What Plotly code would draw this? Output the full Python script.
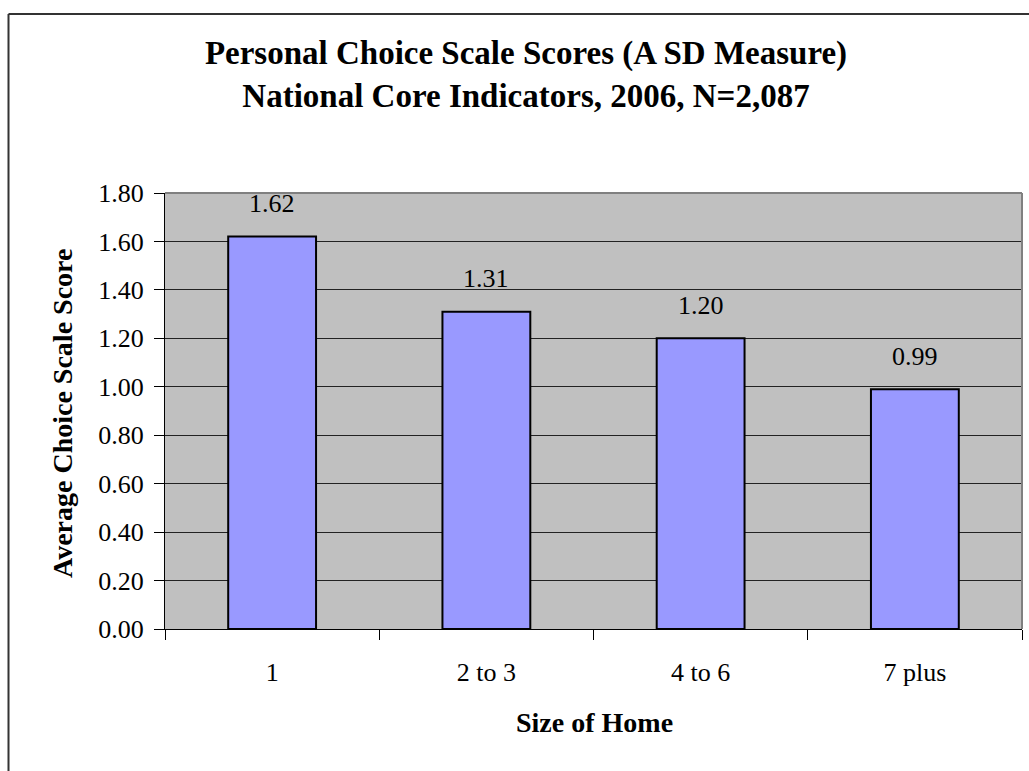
import plotly.graph_objects as go

# Chart data
categories = ["1", "2 to 3", "4 to 6", "7 plus"]
scores = [1.62, 1.31, 1.20, 0.99]
y_tick_values = [0.0, 0.2, 0.4, 0.6, 0.8, 1.0, 1.2, 1.4, 1.6, 1.8]
y_tick_labels = ["0.00", "0.20", "0.40", "0.60", "0.80", "1.00", "1.20", "1.40", "1.60", "1.80"]

title_lines = ["Personal Choice Scale Scores (A SD Measure)",
               "National Core Indicators, 2006, N=2,087"]
x_title = "Size of Home"
y_title = "Average Choice Scale Score"

# Page geometry (pixels)
W, H = 1029, 771
L, R, T, B = 165, 7, 193, 142
PW = W - L - R
PH = H - T - B

FONT = "Liberation Serif, Times New Roman, serif"


def px_x(px):
    return (px - L) / PW


def px_y(py):
    return (H - B - py) / PH


fig = go.Figure(
    go.Bar(
        x=categories,
        y=scores,
        width=0.41,
        marker=dict(color="#9999FF", line=dict(color="black", width=2)),
        hoverinfo="x+y",
    )
)

# Value labels above each bar (category positions given by index)
annotations = []
for i, val in enumerate(scores):
    annotations.append(dict(
        x=i, y=val, xref="x", yref="y",
        text=f"{val:.2f}", showarrow=False,
        yanchor="middle", yshift=33,
        font=dict(family=FONT, size=26, color="black"),
    ))

# Axis titles
annotations.append(dict(
    x=px_x(594), y=px_y(722), xref="paper", yref="paper",
    text=f"<b>{x_title}</b>", showarrow=False,
    xanchor="center", yanchor="middle",
    font=dict(family=FONT, size=28, color="black"),
))
annotations.append(dict(
    x=px_x(62), y=px_y(414), xref="paper", yref="paper",
    text=f"<b>{y_title}</b>", showarrow=False, textangle=-90,
    xanchor="center", yanchor="middle",
    font=dict(family=FONT, size=28, color="black"),
))

shapes = [
    # outer chart frame (top and left edges)
    dict(type="line", xref="paper", yref="paper",
         x0=px_x(8.5), x1=px_x(W + 20), y0=px_y(14), y1=px_y(14),
         line=dict(color="#333333", width=2)),
    dict(type="line", xref="paper", yref="paper",
         x0=px_x(8.5), x1=px_x(8.5), y0=px_y(14), y1=px_y(H + 20),
         line=dict(color="#333333", width=2)),
    # plot-area border (top and right)
    dict(type="line", xref="paper", yref="paper",
         x0=0, x1=1, y0=1, y1=1, line=dict(color="#808080", width=2)),
    dict(type="line", xref="paper", yref="paper",
         x0=1, x1=1, y0=0, y1=1, line=dict(color="#808080", width=2)),
]

fig.update_layout(
    width=W, height=H,
    margin=dict(l=L, r=R, t=T, b=B, autoexpand=False),
    paper_bgcolor="white",
    plot_bgcolor="#C0C0C0",
    showlegend=False,
    bargap=0.59,
    title=dict(
        text="<b>" + "<br>".join(title_lines) + "</b>",
        x=526 / W, xanchor="center", xref="container",
        y=1 - 64 / H, yanchor="top", yref="container",
        font=dict(family=FONT, size=33, color="black"),
    ),
    annotations=annotations,
    shapes=shapes,
    font=dict(family=FONT, color="black"),
)

fig.update_xaxes(
    type="category",
    range=[-0.5, len(categories) - 0.5],
    showline=True, linecolor="black", linewidth=1,
    ticks="outside", tickson="boundaries", ticklen=10, tickcolor="black", tickwidth=1,
    showgrid=False, zeroline=False,
    tickfont=dict(family=FONT, size=26, color="black"),
    ticklabelstandoff=20,
)

fig.update_yaxes(
    range=[0, 1.8],
    tickvals=y_tick_values, ticktext=y_tick_labels,
    showline=True, linecolor="black", linewidth=1,
    ticks="outside", ticklen=10, tickcolor="black", tickwidth=1,
    showgrid=True, gridcolor="#222222", gridwidth=1,
    zeroline=False,
    tickfont=dict(family=FONT, size=26, color="black"),
    ticklabelstandoff=5,
)

fig.write_html("out.html")
